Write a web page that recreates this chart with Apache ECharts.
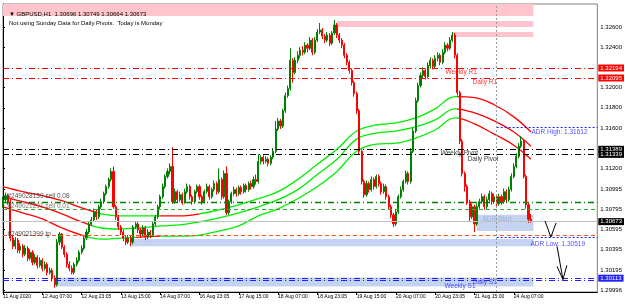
<!DOCTYPE html>
<html><head><meta charset="utf-8">
<script src="https://cdn.jsdelivr.net/npm/echarts@6/dist/echarts.min.js"></script>
<style>html,body{margin:0;padding:0;background:#fff}#c{width:625px;height:307px}</style>
</head><body><div id="c"></div>
<script>
// ---- data ----
const tickLabels = ['11 Aug 2020','12 Aug 07:00','12 Aug 23:05','13 Aug 15:00','14 Aug 07:00','16 Aug 23:05','17 Aug 15:00','18 Aug 07:00','18 Aug 23:05','19 Aug 15:00','20 Aug 07:00','20 Aug 23:05','21 Aug 15:00','24 Aug 07:00'];
const priceTicks = [1.326,1.324,1.320,1.318,1.316,1.312,1.30995,1.30795,1.30595,1.30395,1.30195,1.29996];

const opens = [
1.3084,1.3089,1.3093,1.3087,1.3051,1.3043,1.3049,1.3039,1.3043,1.3035,
1.3041,1.3031,1.3037,1.3027,1.3032,1.3024,1.3029,1.3021,1.3025,1.3017,
1.3019,1.3011,1.3005,1.3047,1.3055,1.3042,1.3035,1.3025,1.3021,1.3017,
1.3025,1.3029,1.3037,1.3041,1.3051,1.3057,1.3065,1.3069,1.3077,1.3072,
1.3082,1.3087,1.3095,1.3102,1.3109,1.3117,1.3082,1.3072,1.3062,1.3057,
1.3051,1.3047,1.3051,1.3047,1.3062,1.3065,1.3059,1.3055,1.3061,1.3052,
1.3057,1.3054,1.3065,1.3072,1.3082,1.3092,1.3102,1.3112,1.3117,1.3122,
1.3087,1.3097,1.3089,1.3094,1.3087,1.3097,1.3102,1.3092,1.3087,1.3097,
1.3102,1.3092,1.3087,1.3097,1.3102,1.3092,1.3099,1.3105,1.3097,1.3109,
1.3092,1.3115,1.3076,1.3087,1.3095,1.3099,1.3095,1.3101,1.3097,1.3103,
1.3099,1.3105,1.3102,1.3109,1.3107,1.3127,1.3131,1.3127,1.3129,1.3125,
1.3131,1.3137,1.3159,1.3167,1.3162,1.3177,1.3192,1.3199,1.3227,1.3215,
1.3227,1.3232,1.3237,1.3235,1.3242,1.3239,1.3247,1.3235,1.3247,1.3255,
1.3257,1.3251,1.3247,1.3252,1.3244,1.3254,1.3262,1.3252,1.3247,1.3242,
1.3232,1.3225,1.3217,1.3205,1.3194,1.3177,1.3137,1.3107,1.3094,1.3105,
1.3099,1.3109,1.3102,1.3112,1.3105,1.3097,1.3102,1.3092,1.3082,1.3074,
1.3065,1.3077,1.3092,1.3099,1.3107,1.3115,1.3107,1.3137,1.3157,1.3187,
1.3202,1.3212,1.3217,1.3211,1.3222,1.3227,1.3221,1.3229,1.3232,1.3225,
1.3235,1.3242,1.3239,1.3247,1.3252,1.3232,1.3195,1.3147,1.3115,1.3102,
1.3087,1.3072,1.3082,1.3065,1.3082,1.3087,1.3092,1.3082,1.3089,1.3095,
1.3087,1.3092,1.3085,1.3092,1.3087,1.3097,1.3089,1.3099,1.3112,1.3122,
1.3132,1.3142,1.3147,1.3112,1.3084,1.30696];
const closes = [
1.3089,1.3093,1.3087,1.3051,1.3043,1.3049,1.3039,1.3043,1.3035,1.3041,
1.3031,1.3037,1.3027,1.3032,1.3024,1.3029,1.3021,1.3025,1.3017,1.3019,
1.3011,1.3005,1.3047,1.3055,1.3042,1.3035,1.3025,1.3021,1.3017,1.3025,
1.3029,1.3037,1.3041,1.3051,1.3057,1.3065,1.3069,1.3077,1.3072,1.3082,
1.3087,1.3095,1.3102,1.3109,1.3117,1.3082,1.3072,1.3062,1.3057,1.3051,
1.3047,1.3051,1.3047,1.3062,1.3065,1.3059,1.3055,1.3061,1.3052,1.3057,
1.3054,1.3065,1.3072,1.3082,1.3092,1.3102,1.3112,1.3117,1.3122,1.3087,
1.3097,1.3089,1.3094,1.3087,1.3097,1.3102,1.3092,1.3087,1.3097,1.3102,
1.3092,1.3087,1.3097,1.3102,1.3092,1.3099,1.3105,1.3097,1.3109,1.3092,
1.3115,1.3076,1.3087,1.3095,1.3099,1.3095,1.3101,1.3097,1.3103,1.3099,
1.3105,1.3102,1.3109,1.3107,1.3127,1.3131,1.3127,1.3129,1.3125,1.3131,
1.3137,1.3159,1.3167,1.3162,1.3177,1.3192,1.3199,1.3227,1.3215,1.3227,
1.3232,1.3237,1.3235,1.3242,1.3239,1.3247,1.3235,1.3247,1.3255,1.3257,
1.3251,1.3247,1.3252,1.3244,1.3254,1.3262,1.3252,1.3247,1.3242,1.3232,
1.3225,1.3217,1.3205,1.3194,1.3177,1.3137,1.3107,1.3094,1.3105,1.3099,
1.3109,1.3102,1.3112,1.3105,1.3097,1.3102,1.3092,1.3082,1.3074,1.3065,
1.3077,1.3092,1.3099,1.3107,1.3115,1.3107,1.3137,1.3157,1.3187,1.3202,
1.3212,1.3217,1.3211,1.3222,1.3227,1.3221,1.3229,1.3232,1.3225,1.3235,
1.3242,1.3239,1.3247,1.3252,1.3232,1.3195,1.3147,1.3115,1.3102,1.3087,
1.3072,1.3082,1.3065,1.3082,1.3087,1.3092,1.3082,1.3089,1.3095,1.3087,
1.3092,1.3085,1.3092,1.3087,1.3097,1.3089,1.3099,1.3112,1.3122,1.3132,
1.3142,1.3147,1.3112,1.3084,1.30696,1.30673];
const highs = [
1.3092,1.3096,1.3095,1.3090,1.3054,1.3052,1.3051,1.3046,1.3045,1.3044,
1.3043,1.3040,1.3039,1.3035,1.3034,1.3032,1.3031,1.3028,1.3027,1.3022,
1.3021,1.3014,1.3050,1.3057,1.3056,1.3044,1.3037,1.3028,1.3024,1.3027,
1.3032,1.3039,1.3044,1.3053,1.3060,1.3067,1.3072,1.3080,1.3079,1.3084,
1.3090,1.3097,1.3104,1.3111,1.3120,1.3122,1.3084,1.3074,1.3064,1.3059,
1.3053,1.3054,1.3053,1.3064,1.3068,1.3067,1.3061,1.3064,1.3063,1.3060,
1.3059,1.3067,1.3074,1.3084,1.3094,1.3105,1.3114,1.3120,1.3125,1.3141,
1.3100,1.3099,1.3097,1.3096,1.3100,1.3105,1.3104,1.3094,1.3099,1.3104,
1.3104,1.3094,1.3099,1.3105,1.3104,1.3101,1.3108,1.3107,1.3120,1.3111,
1.3118,1.3122,1.3089,1.3097,1.3102,1.3101,1.3103,1.3103,1.3105,1.3105,
1.3107,1.3108,1.3112,1.3114,1.3134,1.3133,1.3133,1.3132,1.3131,1.3133,
1.3140,1.3167,1.3170,1.3169,1.3179,1.3195,1.3202,1.3239,1.3229,1.3230,
1.3236,1.3240,1.3241,1.3245,1.3244,1.3250,1.3249,1.3250,1.3258,1.3264,
1.3259,1.3253,1.3255,1.3254,1.3256,1.3267,1.3264,1.3254,1.3249,1.3244,
1.3234,1.3227,1.3219,1.3207,1.3196,1.3179,1.3139,1.3109,1.3108,1.3107,
1.3112,1.3111,1.3114,1.3114,1.3107,1.3105,1.3104,1.3094,1.3084,1.3076,
1.3080,1.3094,1.3102,1.3109,1.3118,1.3117,1.3140,1.3160,1.3190,1.3205,
1.3215,1.3220,1.3219,1.3225,1.3230,1.3229,1.3232,1.3235,1.3234,1.3238,
1.3245,1.3244,1.3250,1.3255,1.3254,1.3234,1.3197,1.3149,1.3117,1.3104,
1.3089,1.3085,1.3084,1.3085,1.3090,1.3095,1.3094,1.3092,1.3098,1.3097,
1.3095,1.3094,1.3095,1.3094,1.3100,1.3099,1.3102,1.3115,1.3125,1.3135,
1.3145,1.3152,1.3149,1.3114,1.3086,1.30749];
const lows = [
1.3081,1.3086,1.3084,1.3048,1.3040,1.3040,1.3036,1.3036,1.3032,1.3033,
1.3028,1.3029,1.3024,1.3025,1.3021,1.3022,1.3018,1.3019,1.3014,1.3015,
1.3008,1.3002,1.3003,1.3044,1.3040,1.3032,1.3022,1.3018,1.3015,1.3015,
1.3023,1.3027,1.3035,1.3039,1.3049,1.3055,1.3063,1.3067,1.3069,1.3070,
1.3080,1.3085,1.3093,1.3100,1.3107,1.3080,1.3069,1.3059,1.3054,1.3048,
1.3044,1.3045,1.3043,1.3045,1.3060,1.3056,1.3052,1.3053,1.3049,1.3050,
1.3051,1.3052,1.3063,1.3070,1.3080,1.3090,1.3100,1.3110,1.3114,1.3085,
1.3085,1.3086,1.3087,1.3084,1.3085,1.3095,1.3089,1.3084,1.3085,1.3095,
1.3089,1.3084,1.3085,1.3095,1.3089,1.3090,1.3097,1.3094,1.3095,1.3089,
1.3090,1.3074,1.3074,1.3085,1.3093,1.3092,1.3093,1.3094,1.3095,1.3096,
1.3097,1.3099,1.3100,1.3104,1.3105,1.3124,1.3124,1.3125,1.3122,1.3123,
1.3129,1.3135,1.3157,1.3159,1.3160,1.3175,1.3190,1.3197,1.3205,1.3213,
1.3224,1.3229,1.3232,1.3233,1.3235,1.3237,1.3232,1.3233,1.3245,1.3253,
1.3248,1.3244,1.3245,1.3241,1.3242,1.3252,1.3249,1.3244,1.3239,1.3229,
1.3222,1.3214,1.3202,1.3191,1.3174,1.3134,1.3104,1.3091,1.3092,1.3096,
1.3097,1.3099,1.3100,1.3102,1.3094,1.3095,1.3089,1.3079,1.3071,1.3062,
1.3063,1.3075,1.3090,1.3097,1.3105,1.3104,1.3105,1.3135,1.3155,1.3185,
1.3200,1.3209,1.3208,1.3209,1.3219,1.3218,1.3219,1.3226,1.3222,1.3223,
1.3233,1.3236,1.3237,1.3245,1.3229,1.3192,1.3144,1.3112,1.3097,1.3084,
1.3067,1.3070,1.3057,1.3063,1.3080,1.3085,1.3079,1.3080,1.3087,1.3084,
1.3085,1.3082,1.3083,1.3084,1.3085,1.3086,1.3087,1.3097,1.3110,1.3120,
1.3130,1.3140,1.3110,1.3080,1.3066,1.30664];

// moving-average envelope, read every 8 bars
const maIdx = [0,8,16,24,32,40,48,56,64,72,80,88,96,104,112,120,128,136,144,152,160,168,176,184,192,200,208,215];
const maTop = [1.3102,1.3097,1.3093,1.3088,1.3081,1.3075,1.3073,1.3073,1.3073,1.3073,1.3075,1.3079,1.3084,1.3090,1.3097,1.3109,1.3124,1.3139,1.3157,1.3163,1.3165,1.3170,1.3179,1.3191,1.3190,1.3183,1.3171,1.3156];
const maMid = [1.3092,1.3087,1.3082,1.3075,1.3067,1.3061,1.3060,1.3061,1.3063,1.3064,1.3067,1.3071,1.3076,1.3082,1.3089,1.3099,1.3114,1.3129,1.3149,1.3155,1.3157,1.3161,1.3168,1.3179,1.3175,1.3167,1.3156,1.3142];
const maBot = [1.3082,1.3076,1.3070,1.3061,1.3054,1.3050,1.3051,1.3052,1.3053,1.3053,1.3054,1.3058,1.3063,1.3073,1.3080,1.3090,1.3102,1.3117,1.3137,1.3144,1.3145,1.3150,1.3158,1.3170,1.3164,1.3154,1.3143,1.3129];

// price levels
const levels = {
  weeklyR1: 1.32194, dailyR1: 1.32095, weeklyPivot: 1.31389, dailyPivot: 1.31339,
  sell008: 1.30863, sell001: 1.30800, bid: 1.30673, tp: 1.30535,
  adrHigh: 1.31612, adrLow: 1.30519, weeklyS1: 1.30113, dailyS1: 1.30088
};
const dayStart = 201;      // bar index of 24 Aug 00:00
const lastBar = 216;       // right edge of drawn zones
const SLOTS = 243;         // visible bar slots incl. empty right margin

// ---- chart ----
const F = 'Liberation Sans';
const RED = '#ff0000', GRN = '#00ee00', BLUE = '#2020ff';
const categories = Array.from({length: SLOTS}, (_, i) => String(i));
const candleData = opens.map((o, i) => [o, closes[i], lows[i], highs[i]]);

function axisTag(txt, bg) {
  return {show: true, position: 'end', distance: 1, formatter: txt, backgroundColor: bg,
          color: '#fff', fontSize: 6, fontFamily: F, padding: [1, 2, 0, 2]};
}
function hLine(v, color, type, width, tag) {
  return {yAxis: v, lineStyle: {color, type, width}, label: tag ? axisTag(v.toFixed(5), tag) : {show: false}};
}
const DD = [6, 3, 1, 3];

const annotations = [
  ['Weekly R1', 180, 1.3215, RED], ['Daily R1', 191, 1.3205, RED],
  ['ADR High: 1.31612', 215, 1.3156, BLUE], ['Weekly Pivot', 178, 1.3135, '#000'],
  ['Daily Pivot', 189, 1.3129, '#000'], ['ADR Start', 195, 1.3070, '#98a8d0'],
  ['ADR Low: 1.30519', 214.6, 1.3045, BLUE], ['Weekly S1', 179.6, 1.3003, BLUE],
  ['Daily S1', 191, 1.3007, BLUE], ['#249028159 sell 0.08', 1.6, 1.3092, '#222'],
  ['#249021291 sell 0.01', 1.6, 1.3083, '#555'], ['#249021399 tp', 1.6, 1.3055, '#222']
];

const chart = echarts.init(document.getElementById('c'), null, {renderer: 'canvas'});
chart.setOption({
  animation: false,
  backgroundColor: '#fff',
  title: [
    {text: '▼ GBPUSD,H1  1.30696 1.30749 1.30664 1.30673', left: 4, top: 6,
     textStyle: {fontSize: 6, fontWeight: 'normal', color: '#000', fontFamily: F}},
    {text: 'Not using Sunday Data for Daily Pivots.  Today is Monday', left: 4, top: 15,
     textStyle: {fontSize: 6, fontWeight: 'normal', color: '#000', fontFamily: F}}
  ],
  grid: {left: 3, right: 27, top: 4, bottom: 15, show: true, borderColor: '#808080', borderWidth: 1},
  xAxis: [
    {type: 'category', data: categories, boundaryGap: false,
     axisLine: {lineStyle: {color: '#000'}},
     axisTick: {show: true, length: 3, lineStyle: {color: '#000'},
                interval: (i) => i % 16 === 0 && i / 16 < tickLabels.length},
     axisLabel: {interval: (i) => i % 16 === 0 && i / 16 < tickLabels.length,
                 formatter: (v, i) => tickLabels[i / 16] || '', align: 'left', margin: 2,
                 fontSize: 5, color: '#000', fontFamily: F},
     splitLine: {show: false}},
    {type: 'value', min: 0, max: SLOTS - 1, show: false}
  ],
  yAxis: {type: 'value', position: 'right', min: 1.299762, max: 1.328277, scale: true,
    splitLine: {show: false},
    axisLine: {show: true, lineStyle: {color: '#000'}},
    axisTick: {show: true, length: 2, customValues: priceTicks, lineStyle: {color: '#000'}},
    axisLabel: {customValues: priceTicks, formatter: (v) => v.toFixed(5), margin: 3,
                fontSize: 6, color: '#000', fontFamily: F}},
  visualMap: [
    {show: false, type: 'piecewise', seriesIndex: 2, dimension: 0, pieces: [
      {lt: 38, color: RED}, {gte: 38, lt: 64, color: GRN}, {gte: 64, lt: 80, color: RED},
      {gte: 80, lt: 185, color: GRN}, {gte: 185, color: RED}]},
    {show: false, type: 'piecewise', seriesIndex: 3, dimension: 0, pieces: [
      {lt: 36, color: RED}, {gte: 36, lt: 185, color: GRN}, {gte: 185, color: RED}]},
    {show: false, type: 'piecewise', seriesIndex: 4, dimension: 0, pieces: [
      {lt: 34, color: RED}, {gte: 34, lt: 54, color: GRN}, {gte: 54, lt: 64, color: RED},
      {gte: 64, lt: 186, color: GRN}, {gte: 186, color: RED}]}
  ],
  series: [
    { // zones
      type: 'line', xAxisIndex: 1, data: [], z: 1, silent: true,
      markArea: {silent: true, precision: 6, data: [
        [{coord: [0, 1.3271], itemStyle: {color: '#ffc4cc'}}, {coord: [lastBar, 1.328277]}],
        [{coord: [136, 1.3260], itemStyle: {color: '#ffc4cc'}}, {coord: [lastBar, 1.3266]}],
        [{coord: [183, 1.3250], itemStyle: {color: '#ffc4cc'}}, {coord: [lastBar, 1.3255]}],
        [{coord: [52, 1.3043], itemStyle: {color: '#c5d3f3'}}, {coord: [lastBar, 1.3050]}],
        [{coord: [21, 1.3003], itemStyle: {color: '#c5d3f3'}}, {coord: [lastBar, 1.3012]}],
        [{coord: [193, 1.3058], itemStyle: {color: '#c5d3f3'}}, {coord: [lastBar, 1.3074]}]
      ]}
    },
    { // levels
      type: 'line', xAxisIndex: 1, data: [], z: 2, silent: true,
      markLine: {silent: true, precision: 6, symbol: ['none', 'none'], animation: false, data: [
        hLine(levels.weeklyR1, RED, DD, 1, RED),
        hLine(levels.dailyR1, RED, DD, 1, RED),
        hLine(levels.weeklyPivot, '#000', DD, 1, '#000'),
        hLine(levels.dailyPivot, '#000', DD, 1, '#000'),
        hLine(levels.sell008, '#008000', DD, 1.3, null),
        hLine(levels.sell001, '#33aa33', [4, 3], 1, null),
        hLine(levels.bid, '#c0c0c0', 'solid', 1, '#000'),
        hLine(levels.tp, '#ff5a1e', [4, 3], 1, null),
        hLine(levels.weeklyS1, BLUE, DD, 1, BLUE),
        hLine(levels.dailyS1, BLUE, DD, 1, null),
        [{coord: [dayStart, levels.adrHigh], lineStyle: {color: BLUE, type: [2, 2], width: 1}, label: {show: false}},
         {coord: [SLOTS - 1, levels.adrHigh]}],
        [{coord: [dayStart, levels.adrLow], lineStyle: {color: BLUE, type: [2, 2], width: 1}, label: {show: false}},
         {coord: [SLOTS - 1, levels.adrLow]}],
        {xAxis: dayStart, lineStyle: {color: '#999', type: [2, 2], width: 1}, label: {show: false}}
      ]}
    },
    {type: 'line', xAxisIndex: 1, z: 3, silent: true, symbol: 'none', smooth: 0.4,
     lineStyle: {width: 1.3}, data: maIdx.map((x, k) => [x, maTop[k]])},
    {type: 'line', xAxisIndex: 1, z: 3, silent: true, symbol: 'none', smooth: 0.4,
     lineStyle: {width: 1.3}, data: maIdx.map((x, k) => [x, maMid[k]])},
    {type: 'line', xAxisIndex: 1, z: 3, silent: true, symbol: 'none', smooth: 0.4,
     lineStyle: {width: 1.3}, data: maIdx.map((x, k) => [x, maBot[k]])},
    {type: 'candlestick', z: 4, silent: true, barWidth: 1.6, data: candleData,
     itemStyle: {color: '#008000', color0: '#ff0000', borderColor: '#008000', borderColor0: '#ff0000', borderWidth: 1}},
    {type: 'scatter', xAxisIndex: 1, z: 6, silent: true, symbolSize: 1,
     itemStyle: {color: 'rgba(0,0,0,0)'},
     data: annotations.map(a => ({value: [a[1], a[2]],
       label: {show: true, position: 'right', distance: 0, formatter: a[0], color: a[3],
               fontSize: 6.5, fontFamily: F}}))},
    {type: 'line', xAxisIndex: 1, z: 6, silent: true, symbol: 'none', lineStyle: {color: '#000', width: 1},
     data: [[220.7, 1.3068], [223.1, 1.3052], [225.2, 1.3066]]},
    {type: 'line', xAxisIndex: 1, z: 6, silent: true, symbol: 'none', lineStyle: {color: '#000', width: 1},
     data: [[225.6, 1.3043], [228, 1.3010]]},
    {type: 'line', xAxisIndex: 1, z: 6, silent: true, symbol: 'none', lineStyle: {color: '#000', width: 1},
     data: [[225.6, 1.3023], [228, 1.3010], [229.6, 1.3024]]}
  ]
});
</script></body></html>
